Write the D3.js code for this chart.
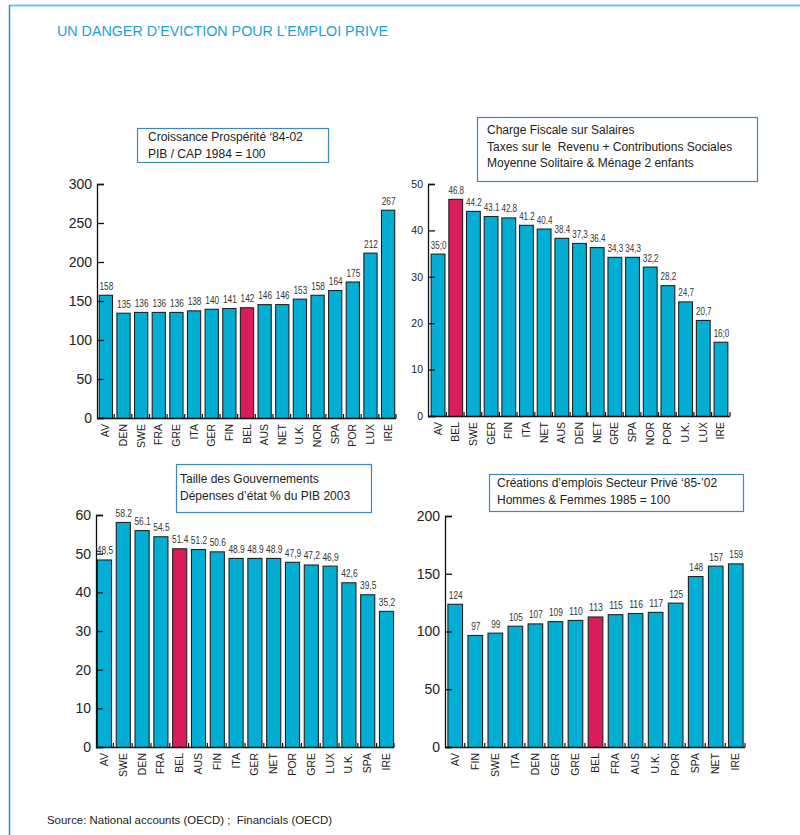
<!DOCTYPE html>
<html>
<head>
<meta charset="utf-8">
<script src="https://cdn.jsdelivr.net/npm/d3@7"></script>
<style>
  body { margin: 0; background: #fff; }
  svg { display: block; font-family: "Liberation Sans", Arial, sans-serif; }
</style>
</head>
<body>
<div id="chart"></div>
<script>
// data
var growthCats = ["AV","DEN","SWE","FRA","GRE","ITA","GER","FIN","BEL","AUS","NET","U.K.","NOR","SPA","POR","LUX","IRE"];
var growthVals = [158,135,136,136,136,138,140,141,142,146,146,153,158,164,175,212,267];
var growthLbls = ["158","135","136","136","136","138","140","141","142","146","146","153","158","164","175","212","267"];
var growthTicks = [0,50,100,150,200,250,300];

var taxCats = ["AV","BEL","SWE","GER","FIN","ITA","NET","AUS","DEN","NET","GRE","SPA","NOR","POR","U.K.","LUX","IRE"];
var taxVals = [35.0,46.8,44.2,43.1,42.8,41.2,40.4,38.4,37.3,36.4,34.3,34.3,32.2,28.2,24.7,20.7,16.0];
var taxLbls = ["35;0","46.8","44.2","43.1","42.8","41.2","40.4","38.4","37,3","36.4","34,3","34,3","32,2","28,2","24,7","20,7","16;0"];
var taxTicks = [0,10,20,30,40,50];

var govCats = ["AV","SWE","DEN","FRA","BEL","AUS","FIN","ITA","GER","NET","POR","GRE","LUX","U.K.","SPA","IRE"];
var govVals = [48.5,58.2,56.1,54.5,51.4,51.2,50.6,48.9,48.9,48.9,47.9,47.2,46.9,42.6,39.5,35.2];
var govLbls = ["48,5","58.2","56.1","54.5","51.4","51.2","50.6","48.9","48.9","48.9","47,9","47,2","46,9","42,6","39,5","35,2"];
var govTicks = [0,10,20,30,40,50,60];

var jobCats = ["AV","FIN","SWE","ITA","DEN","GER","GRE","BEL","FRA","AUS","U.K.","POR","SPA","NET","IRE"];
var jobVals = [124,97,99,105,107,109,110,113,115,116,117,125,148,157,159];
var jobLbls = ["124","97","99","105","107","109","110","113","115","116","117","125","148","157","159"];
var jobTicks = [0,50,100,150,200];

var blue = "#03aed5", red = "#d91d5b";

var svg = d3.select("#chart").append("svg")
    .attr("width", 800)
    .attr("height", 835);

// page frame
svg.append("line").attr("x1", 9).attr("x2", 800).attr("y1", 5.5).attr("y2", 5.5)
    .attr("stroke", "#74c3e4").attr("stroke-width", 2);
svg.append("line").attr("x1", 9.5).attr("x2", 9.5).attr("y1", 5).attr("y2", 835)
    .attr("stroke", "#2a8fcb").attr("stroke-width", 1.5);

svg.append("text").attr("x", 57).attr("y", 36)
    .attr("fill", "#19a3d2").attr("font-size", 14)
    .attr("textLength", 331).attr("lengthAdjust", "spacingAndGlyphs")
    .text("UN DANGER D\u2019EVICTION POUR L\u2019EMPLOI PRIVE");

svg.append("text").attr("x", 47).attr("y", 824)
    .attr("fill", "#222").attr("font-size", 11)
    .attr("textLength", 285).attr("lengthAdjust", "spacingAndGlyphs")
    .attr("xml:space", "preserve")
    .text("Source: National accounts (OECD) ;  Financials (OECD)");

// squeeze value labels a bit, the original face is narrower
function labelWidth(s) {
  var w = 0;
  for (var i = 0; i < s.length; i++) w += /[0-9]/.test(s[i]) ? 4.4 : 2.4;
  return w;
}

//draws one bar panel
function panel(o) {
  var g = svg.append("g");
  var idx = o.cats.map(function(d, i){ return i; });

  var x = d3.scaleBand().domain(idx).range([o.x0, o.x1])
      .paddingInner(o.pin).paddingOuter(o.pout);
  var y = d3.scaleLinear().domain([0, o.max]).range([o.y0, o.y1]);

  // title box
  g.append("rect").attr("x", o.box[0] + 0.5).attr("y", o.box[1] + 0.5)
      .attr("width", o.box[2]).attr("height", o.box[3])
      .attr("fill", "#fff").attr("stroke", "#3d86c6").attr("stroke-width", 1.2);
  o.title.forEach(function(t, i){
    g.append("text").attr("x", o.tx).attr("y", o.ty + i * o.tdy)
        .attr("font-size", 12).attr("fill", "#222")
        .attr("xml:space", "preserve").text(t);
  });

  // bars
  g.selectAll(".bar").data(o.vals).enter().append("rect")
      .attr("x", function(d, i){ return x(i) + 0.5; })
      .attr("y", function(d){ return y(d) + 0.5; })
      .attr("width", x.bandwidth())
      .attr("height", function(d){ return o.y0 - y(d); })
      .attr("fill", function(d, i){ return o.cats[i] == "BEL" ? red : blue; })
      .attr("stroke", "#222").attr("stroke-width", 1.1);

  // value labels
  g.selectAll(".val").data(o.vals).enter().append("text")
      .attr("x", function(d, i){ return x(i) + x.bandwidth() / 2 + 1; })
      .attr("y", function(d){ return y(d) - 5; })
      .attr("text-anchor", "middle").attr("font-size", o.vfs).attr("fill", "#333")
      .attr("textLength", function(d, i){ return labelWidth(o.lbls[i]) * o.vfs / 10.5; })
      .attr("lengthAdjust", "spacingAndGlyphs")
      .text(function(d, i){ return o.lbls[i]; });

  // y axis, ticks pointing inwards
  var ya = g.append("g").attr("transform", "translate(" + o.x0 + ",0)")
      .call(d3.axisLeft(y).tickValues(o.ticks).tickSizeInner(-7).tickSizeOuter(-7).tickPadding(5));
  ya.selectAll("text").attr("font-size", o.yfs).attr("fill", "#222")
      .attr("font-family", "Liberation Sans, Arial, sans-serif");
  ya.selectAll("path, line").attr("stroke", "#111").attr("stroke-width", 1.3);

  // baseline with small ticks between bars
  g.append("line").attr("x1", o.x0).attr("x2", o.x1).attr("y1", o.y0 + 0.5).attr("y2", o.y0 + 0.5)
      .attr("stroke", "#111").attr("stroke-width", 1.5);
  var step = x.step();
  var seps = idx.slice(1).map(function(i){ return x(i) - (step - x.bandwidth()) / 2; });
  seps.push(o.x1);
  g.selectAll(".sep").data(seps).enter().append("line")
      .attr("x1", function(d){ return d; }).attr("x2", function(d){ return d; })
      .attr("y1", o.y0 - 4).attr("y2", o.y0 + 0.5)
      .attr("stroke", "#111").attr("stroke-width", 1.2);

  // country names
  g.selectAll(".cat").data(o.cats).enter().append("text")
      .attr("transform", function(d, i){
        return "translate(" + (x(i) + x.bandwidth() / 2 + 4) + "," + (o.y0 + 6) + ") rotate(-90)";
      })
      .attr("text-anchor", "end").attr("font-size", 10.5).attr("fill", "#222")
      .text(function(d){ return d; });
}

panel({cats: growthCats, vals: growthVals, lbls: growthLbls, ticks: growthTicks, max: 300,
  x0: 97, x1: 396, y0: 418, y1: 184, pin: 0.25, pout: 0.1, yfs: 14, vfs: 11,
  box: [137, 128, 191, 34], tx: 148, ty: 141, tdy: 16.5,
  title: ["Croissance Prosp\u00e9rit\u00e9 \u201884-02", "PIB / CAP 1984 = 100"]});

panel({cats: taxCats, vals: taxVals, lbls: taxLbls, ticks: taxTicks, max: 50,
  x0: 428, x1: 730, y0: 416, y1: 184, pin: 0.22, pout: 0.15, yfs: 10.5, vfs: 10.5,
  box: [477, 117, 280, 64], tx: 487, ty: 134, tdy: 16.7,
  title: ["Charge Fiscale sur Salaires", "Taxes sur le  Revenu + Contributions Sociales", "Moyenne Solitaire & M\u00e9nage 2 enfants"]});

panel({cats: govCats, vals: govVals, lbls: govLbls, ticks: govTicks, max: 60,
  x0: 96, x1: 394, y0: 747, y1: 515, pin: 0.25, pout: 0.05, yfs: 14, vfs: 11,
  box: [176, 464, 195, 48], tx: 180, ty: 483, tdy: 16.5,
  title: ["Taille des Gouvernements", "D\u00e9penses d\u2019\u00e9tat % du PIB 2003"]});

panel({cats: jobCats, vals: jobVals, lbls: jobLbls, ticks: jobTicks, max: 200,
  x0: 445, x1: 745, y0: 747, y1: 516, pin: 0.27, pout: 0.12, yfs: 14, vfs: 11,
  box: [489, 474, 254, 37], tx: 497, ty: 487, tdy: 16.5,
  title: ["Cr\u00e9ations d\u2019emplois Secteur Priv\u00e9 \u201885-\u201902", "Hommes & Femmes 1985 = 100"]});
</script>
</body>
</html>
